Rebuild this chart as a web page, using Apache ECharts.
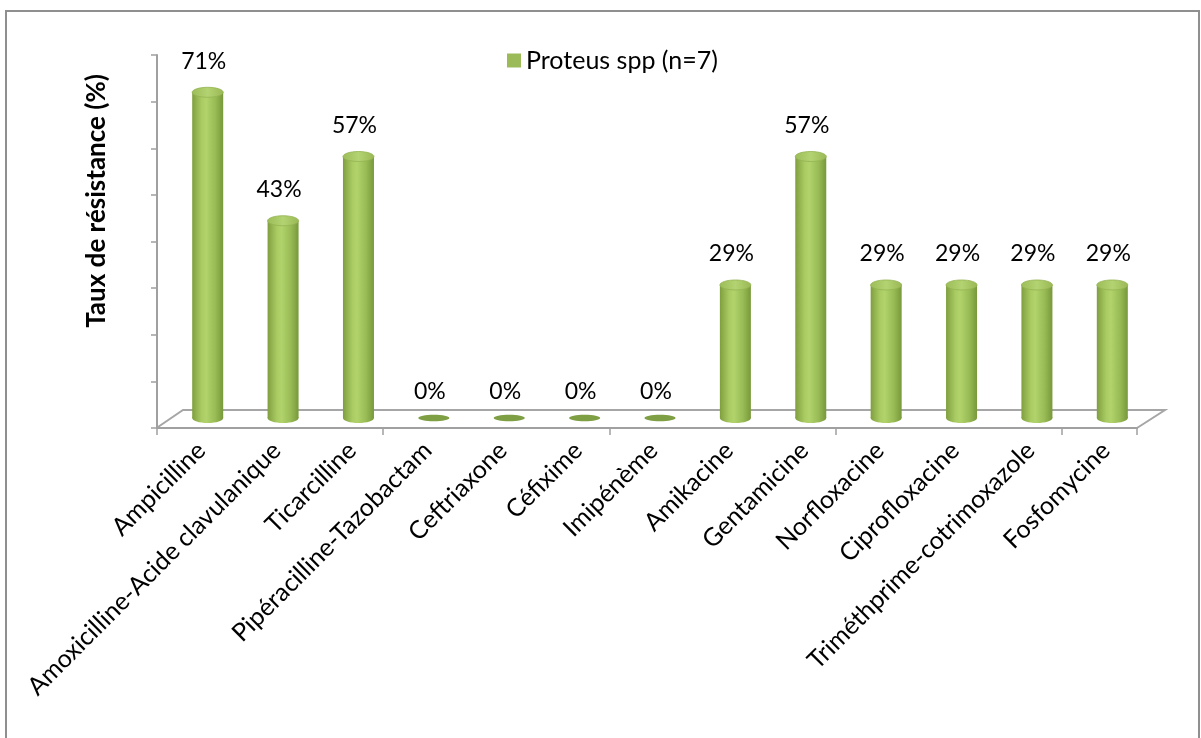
<!DOCTYPE html>
<html>
<head>
<meta charset="utf-8">
<script src="https://cdn.jsdelivr.net/npm/echarts@6/dist/echarts.min.js"></script>
<style>
html,body{margin:0;padding:0;background:#fff;}
#chart{width:1201px;height:738px;}
</style>
</head>
<body>
<div id="chart"></div>
<script>
// ---- data ----
const categories = ["Ampicilline","Amoxicilline-Acide clavulanique","Ticarcilline","Pipéracilline-Tazobactam","Ceftriaxone","Céfixime","Imipénème","Amikacine","Gentamicine","Norfloxacine","Ciprofloxacine","Triméthprime-cotrimoxazole","Fosfomycine"];
const resistance = [71, 43, 57, 0, 0, 0, 0, 29, 57, 29, 29, 29, 29];
const seriesName = "Proteus spp (n=7)";
const yAxisTitle = "Taux de résistance (%)";
const yMax = 80;
const yStep = 10;

const FONT = 'Lato, "Open Sans", sans-serif';
const chart = echarts.init(document.getElementById('chart'), null, {renderer:'canvas'});

const bodyGrad = () => new echarts.graphic.LinearGradient(0,0,1,0,[
  {offset:0, color:'#7f9f3f'},
  {offset:0.3, color:'#a9cb62'},
  {offset:0.45, color:'#b2d36c'},
  {offset:0.75, color:'#98bb55'},
  {offset:1, color:'#78983a'}
]);
const capGrad = () => new echarts.graphic.LinearGradient(0,0,1,0,[
  {offset:0, color:'#9cbd59'},
  {offset:0.5, color:'#b3d271'},
  {offset:1, color:'#9ab955'}
]);

function renderItem(params, api){
  const v = api.value(1);
  const base = api.coord([api.value(0), 0]);
  const top = api.coord([api.value(0), v]);
  const w = 31, ry = 5;
  const children = [];
  if (v > 0) {
    children.push({type:'ellipse', shape:{cx:base[0], cy:base[1], rx:w/2, ry:ry}, style:{fill:bodyGrad()}});
    children.push({type:'rect', shape:{x:base[0]-w/2, y:top[1], width:w, height:base[1]-top[1]}, style:{fill:bodyGrad()}});
    children.push({type:'ellipse', shape:{cx:top[0], cy:top[1], rx:w/2, ry:ry}, style:{fill:capGrad(), stroke:'#93b452', lineWidth:0.8}});
  } else {
    children.push({type:'ellipse', shape:{cx:base[0], cy:base[1], rx:w/2, ry:3.2}, style:{fill:'#7f9f44'}});
  }
  children.push({type:'text', x: top[0]-4, y: top[1] - (v>0 ? 31 : 26),
    style:{text: v + '%', font: '23px ' + FONT, fill:'#000', align:'center', verticalAlign:'middle'}});
  return {type:'group', children: children};
}

// layout
const frontLeft = 157, frontRight = 1137, frontBottom = 428, axisTop = 55;
const depthX = 26, depthY = -18;

const option = {
  animation:false,
  backgroundColor:'#fff',
  legend:{
    show:true, left:502, top:43, icon:'rect', itemWidth:14, itemHeight:14,
    textStyle:{fontFamily:FONT, fontSize:25, color:'#000'},
    data:[seriesName]
  },
  grid:[
    {left:170, right:51, top:51, bottom:320},
    {left:frontLeft, right:1201-frontRight, top:axisTop, bottom:738-frontBottom}
  ],
  xAxis:[
    {type:'category', gridIndex:0, data:categories,
      axisLine:{show:false}, axisTick:{show:false},
      axisLabel:{rotate:45, margin:22, interval:0, padding:[0,9,0,0], fontFamily:FONT, fontSize:25, color:'#000'}},
    {type:'category', gridIndex:1, data:categories,
      axisLine:{show:true, lineStyle:{color:'#a0a0a0', width:2}},
      axisTick:{show:true, length:7, lineStyle:{color:'#a0a0a0', width:1.5}, alignWithLabel:false},
      axisLabel:{show:false}}
  ],
  yAxis:[
    {type:'value', gridIndex:0, min:0, max:yMax, show:false},
    {type:'value', gridIndex:1, min:0, max:yMax, interval:yStep,
      axisLine:{show:true, lineStyle:{color:'#a0a0a0', width:2}},
      axisTick:{show:true, length:6, lineStyle:{color:'#a0a0a0', width:1.5}},
      axisLabel:{show:false}, splitLine:{show:false}}
  ],
  graphic:[
    {type:'rect', shape:{x:6, y:11, width:1193, height:740}, style:{fill:'none', stroke:'#8f8f8f', lineWidth:2}, z:-10},
    {type:'polyline', shape:{points:[[frontLeft+1, frontBottom-1],[frontLeft+depthX, frontBottom+depthY],[frontRight+depthX+2, frontBottom+depthY],[frontRight, frontBottom]]},
      style:{fill:'none', stroke:'#a6a6a6', lineWidth:2}, z:-5},
    {type:'text', x:97, y:201, rotation:Math.PI/2,
      style:{text:yAxisTitle, font:'bold 26px ' + FONT, fill:'#000', align:'center', verticalAlign:'middle'}}
  ],
  series:[
    {type:'custom', name:seriesName, xAxisIndex:0, yAxisIndex:0,
      itemStyle:{color:'#9bbb59'},
      renderItem:renderItem,
      data: categories.map((c,i)=>[i, resistance[i]]),
      z:10}
  ]
};
chart.setOption(option);
</script>
</body>
</html>
